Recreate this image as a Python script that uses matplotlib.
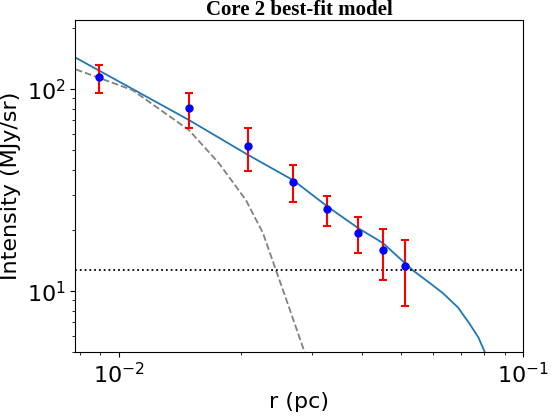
import numpy as np
import matplotlib
matplotlib.use("Agg")
import matplotlib.pyplot as plt

# data points with asymmetric error bars
r = [0.00892, 0.0149, 0.0209, 0.0270, 0.0327, 0.0391, 0.0450, 0.0511]
inten = [114.7, 80.5, 52.2, 34.6, 25.5, 19.4, 16.0, 13.3]
err_hi = [131.5, 95.5, 64.0, 42.1, 29.5, 23.2, 20.3, 17.9]
err_lo = [95.5, 64.0, 39.5, 27.6, 21.1, 15.4, 11.3, 8.4]

# best-fit model
fit_r = [0.00783, 0.01493, 0.02089, 0.0270, 0.03292, 0.0391, 0.0450, 0.0533,
         0.0590, 0.0633, 0.0690, 0.0735, 0.0775, 0.0806]
fit_i = [142.9, 70.2, 47.2, 35.4, 26.1, 20.5, 17.3, 12.7,
         10.9, 9.78, 8.3, 6.95, 5.9, 4.93]

# dashed component
comp_r = [0.00783, 0.01081, 0.01491, 0.01768, 0.02063, 0.02272, 0.02447, 0.02635, 0.02886]
comp_i = [125.2, 98.9, 62.7, 43.0, 28.2, 19.4, 12.7, 8.33, 4.93]

background = 12.7

inten = np.array(inten)
yerr = [inten - np.array(err_lo), np.array(err_hi) - inten]

fig = plt.figure(figsize=(5.53, 4.16), dpi=100)
ax = fig.add_axes([0.136, 0.154, 0.81, 0.798])

ax.plot(fit_r, fit_i, color="#1f77b4", lw=1.3)
ax.plot(comp_r, comp_i, "--", color="gray", lw=1.3)
ax.axhline(background, color="black", ls=":", lw=1.3)
ax.errorbar(r, inten, yerr=yerr, fmt="o", color="blue", ecolor="red",
            elinewidth=1.5, capsize=3, capthick=1.5, ms=5)

ax.set_xscale("log")
ax.set_yscale("log")
ax.set_xlim(0.0078, 0.1)
ax.set_ylim(5.0, 220)
ax.tick_params(labelsize=16)
ax.set_xlabel("r (pc)", fontsize=16)
ax.set_ylabel("Intensity (MJy/sr)", fontsize=16)
ax.set_title("Core 2 best-fit model", fontsize=15, fontweight="bold",
             family="Liberation Serif", pad=2)

plt.savefig("out.png")
